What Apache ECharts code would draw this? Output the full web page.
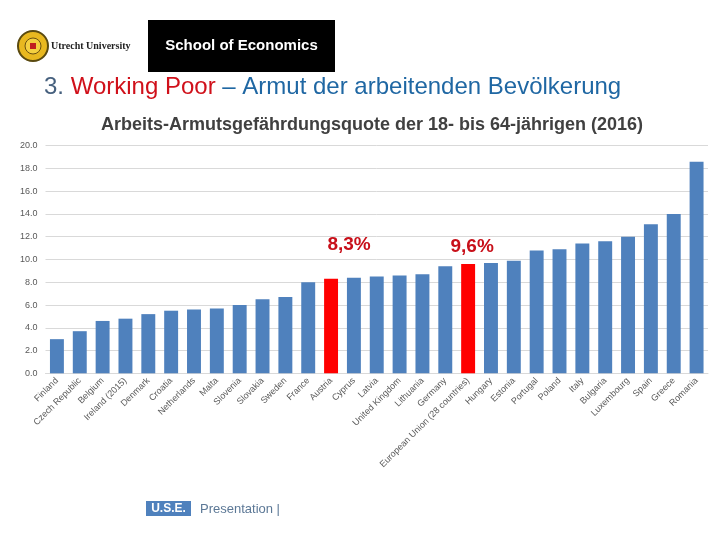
<!DOCTYPE html>
<html>
<head>
<meta charset="utf-8">
<script src="https://cdn.jsdelivr.net/npm/echarts@6/dist/echarts.min.js"></script>
<style>html,body{margin:0;padding:0;background:#fff;}#c{width:720px;height:540px;}</style>
</head>
<body>
<div id="c"></div>
<script>
var categories = ["Finland","Czech Republic","Belgium","Ireland (2015)","Denmark","Croatia","Netherlands","Malta","Slovenia","Slovakia","Sweden","France","Austria","Cyprus","Latvia","United Kingdom","Lithuania","Germany","European Union (28 countries)","Hungary","Estonia","Portugal","Poland","Italy","Bulgaria","Luxembourg","Spain","Greece","Romania"];
var values = [3.0,3.7,4.6,4.8,5.2,5.5,5.6,5.7,6.0,6.5,6.7,8.0,8.3,8.4,8.5,8.6,8.7,9.4,9.6,9.7,9.9,10.8,10.9,11.4,11.6,12.0,13.1,14.0,18.6];
var highlighted = {"Austria":"8,3%","European Union (28 countries)":"9,6%"};
var yTicks = [0,2,4,6,8,10,12,14,16,18,20];

var chart = echarts.init(document.getElementById('c'), null, {renderer:'canvas'});
var data = categories.map(function(c,i){
  var d = {value: values[i]};
  if (highlighted[c]) {
    d.itemStyle = {color:'#ff0000'};
    d.label = {show:true, position:'top', formatter: highlighted[c],
      color:'#c8101a', fontSize:19, fontWeight:'bold', fontFamily:'Liberation Sans',
      offset: c === 'Austria' ? [18,-20] : [4,-3]};
  }
  return d;
});

chart.setOption({
  backgroundColor:'#ffffff',
  animation:false,
  title:{
    text:'Arbeits-Armutsgefährdungsquote der 18- bis 64-jährigen (2016)',
    left:367, top:111, textAlign:'center',
    textStyle:{fontFamily:'Liberation Sans', fontWeight:'bold', fontSize:18, color:'#404040'}
  },
  grid:{left:45.5, right:12, top:145.7, bottom:166.7},
  xAxis:{
    type:'category', data:categories,
    axisLine:{lineStyle:{color:'#d9d9d9'}},
    axisTick:{show:false},
    axisLabel:{rotate:45, interval:0, fontSize:9, color:'#595959', fontFamily:'Liberation Sans', margin:6}
  },
  yAxis:{
    type:'value', min:yTicks[0], max:yTicks[yTicks.length-1], interval:2,
    axisLine:{show:false}, axisTick:{show:false},
    splitLine:{lineStyle:{color:'#d9d9d9'}},
    axisLabel:{fontSize:9, color:'#595959', fontFamily:'Liberation Sans', margin:8,
      formatter:function(v){return v.toFixed(1);}}
  },
  series:[{
    type:'bar', data:data, barCategoryGap:'39%',
    itemStyle:{color:'#4f81bd'}
  }],
  graphic:[
    {type:'circle', shape:{cx:33, cy:46, r:15}, style:{fill:'#e8b820', stroke:'#5a4a10', lineWidth:2}},
    {type:'circle', shape:{cx:33, cy:46, r:8}, style:{fill:'#f4d040', stroke:'#6a5010', lineWidth:1}},
    {type:'rect', shape:{x:30, y:43, width:6, height:6}, style:{fill:'#c02020'}},
    {type:'text', x:51, y:46, style:{text:'Utrecht University', font:'bold 10px "Liberation Serif"', fill:'#222', textVerticalAlign:'middle'}},
    {type:'rect', shape:{x:148, y:20, width:187, height:52}, style:{fill:'#000000'}},
    {type:'text', x:241.5, y:46, style:{text:'School of Economics', font:'bold 15px "Liberation Sans"', fill:'#ffffff', textAlign:'center', textVerticalAlign:'middle'}},
    {type:'text', x:44, y:87, style:{
      text:'{a|3. }{b|Working Poor}{c| – Armut der arbeitenden Bevölkerung}',
      textVerticalAlign:'middle',
      rich:{
        a:{font:'24px "Liberation Sans"', fill:'#46607e'},
        b:{font:'24px "Liberation Sans"', fill:'#d0101a'},
        c:{font:'24px "Liberation Sans"', fill:'#1f67a3'}
      }}},
    {type:'rect', shape:{x:146, y:501, width:45, height:15}, style:{fill:'#4f81bd'}},
    {type:'text', x:168.5, y:509, style:{text:'U.S.E.', font:'bold 12px "Liberation Sans"', fill:'#ffffff', textAlign:'center', textVerticalAlign:'middle'}},
    {type:'text', x:200, y:509, style:{text:'Presentation |', font:'13px "Liberation Sans"', fill:'#5c7896', textVerticalAlign:'middle'}}
  ]
});
</script>
</body>
</html>
